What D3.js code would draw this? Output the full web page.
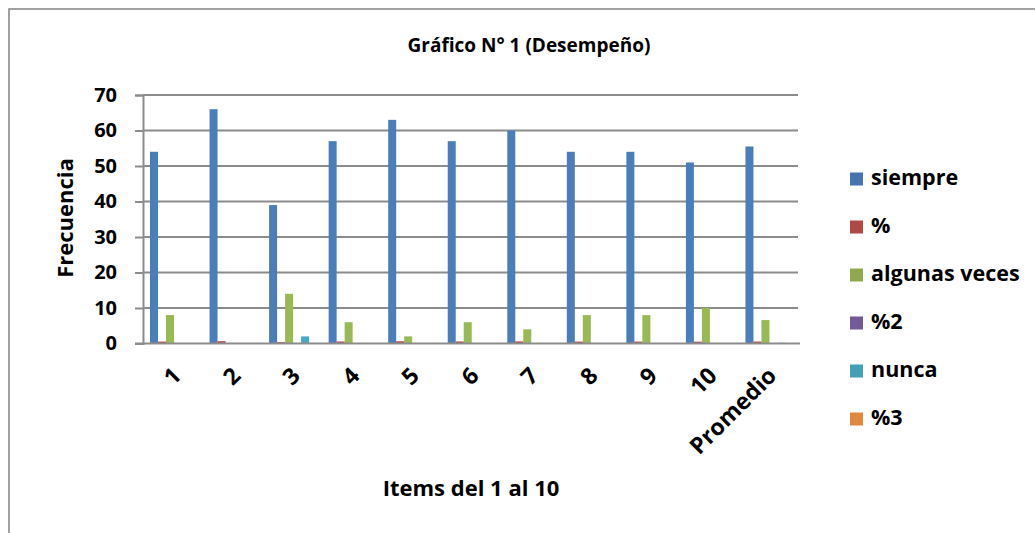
<!DOCTYPE html>
<html><head><meta charset="utf-8">
<script src="https://cdn.jsdelivr.net/npm/d3@7/dist/d3.min.js"></script>
<style>body{margin:0;background:#fff}svg{display:block}text{font-family:"Open Sans",sans-serif;font-weight:bold;fill:#000}</style>
</head><body><svg id="c" width="1035" height="533"></svg>
<script>
const categories = ["1","2","3","4","5","6","7","8","9","10","Promedio"];
const seriesNames = ["siempre","%","algunas veces","%2","nunca","%3"];
const siempre = [54,66,39,57,63,57,60,54,54,51,55.5];
const pct     = [0.54,0.66,0.39,0.57,0.63,0.57,0.60,0.54,0.54,0.51,0.555];
const algunas = [8,0,14,6,2,6,4,8,8,10,6.6];
const pct2    = [0.08,0,0.14,0.06,0.02,0.06,0.04,0.08,0.08,0.10,0.066];
const nunca   = [0,0,2,0,0,0,0,0,0,0,0.2];
const pct3    = [0,0,0.02,0,0,0,0,0,0,0,0.002];
const yTicks  = [0,10,20,30,40,50,60,70];
const colors  = ["#4a7ebb","#be4b48","#98b954","#7d60a0","#46aac5","#f59d56"];
const legendColors = ["#4674b0","#b04848","#8faa4e","#735a96","#42a0b7","#e0883e"];

const values = [siempre,pct,algunas,pct2,nunca,pct3];
const FONT = '"Open Sans", sans-serif';
const svg = d3.select("#c");
svg.append("rect").attr("x",9).attr("y",9).attr("width",1040).attr("height",540)
  .attr("fill","#fff").attr("stroke","#8a8a8a").attr("stroke-width",1.6);

const L=143, R=798, T=95, B=343.5;
const x0 = d3.scaleBand().domain(categories).range([L,R]).padding(0);
const x1 = d3.scaleBand().domain(seriesNames).range([7,55]).padding(0);
const y = d3.scaleLinear().domain([0,70]).range([B,T]);

// gridlines
svg.append("g").selectAll("line").data(yTicks.filter(d=>d>0)).join("line")
  .attr("x1",L).attr("x2",R).attr("y1",d=>y(d)).attr("y2",d=>y(d))
  .attr("stroke","#8c8c8c").attr("stroke-width",2);

// y axis
const yAxis = d3.axisLeft(y).tickValues(yTicks).tickSize(8).tickPadding(18);
const gy = svg.append("g").attr("transform",`translate(${L},0)`).call(yAxis);
gy.select(".domain").attr("stroke","#8c8c8c").attr("stroke-width",2);
gy.selectAll(".tick line").attr("stroke","#8c8c8c").attr("stroke-width",2);
gy.selectAll(".tick text").style("font-size","20px").style("font-family",FONT).style("font-weight","bold").attr("fill","#000");

// bars
seriesNames.forEach((s,si)=>{
  svg.append("g").selectAll("rect").data(categories).join("rect")
    .attr("x",(c)=>x0(c)+x1(s))
    .attr("width",x1.bandwidth())
    .attr("y",(c,i)=>y(values[si][i]))
    .attr("height",(c,i)=>B-y(values[si][i]))
    .attr("fill",colors[si]);
});

// x axis baseline
const xAxis = d3.axisBottom(x0).tickSize(0).tickPadding(0);
const gx = svg.append("g").attr("transform",`translate(0,${B})`).call(xAxis);
gx.select(".domain").attr("stroke","#8c8c8c").attr("stroke-width",2.2).attr("d",`M${L-8},0H${R+2}`);
gx.selectAll(".tick text")
  .attr("text-anchor","end")
  .attr("transform","translate(4,28) rotate(-45)")
  .attr("dy","0.35em")
  .style("font-size","23px").style("font-family",FONT).style("font-weight","bold").attr("fill","#000");

// titles
svg.append("text").attr("x",529).attr("y",47).attr("text-anchor","middle").attr("dominant-baseline","middle")
  .style("font-size","19px").text("Gráfico N° 1 (Desempeño)");
svg.append("text").attr("transform","translate(67,218) rotate(-90)").attr("text-anchor","middle")
  .attr("dominant-baseline","middle").style("font-size","22px").text("Frecuencia");
svg.append("text").attr("x",471).attr("y",490).attr("text-anchor","middle").attr("dominant-baseline","middle")
  .style("font-size","22px").text("Items del 1 al 10");

// legend
const lg = svg.append("g").selectAll("g").data(seriesNames).join("g")
  .attr("transform",(d,i)=>`translate(850,${179+i*48})`);
lg.append("rect").attr("x",0).attr("y",-6.5).attr("width",13).attr("height",13).attr("fill",(d,i)=>legendColors[i]);
lg.append("text").attr("x",21).attr("y",0).attr("dominant-baseline","middle").style("font-size","21.5px").text(d=>d);
</script></body></html>
